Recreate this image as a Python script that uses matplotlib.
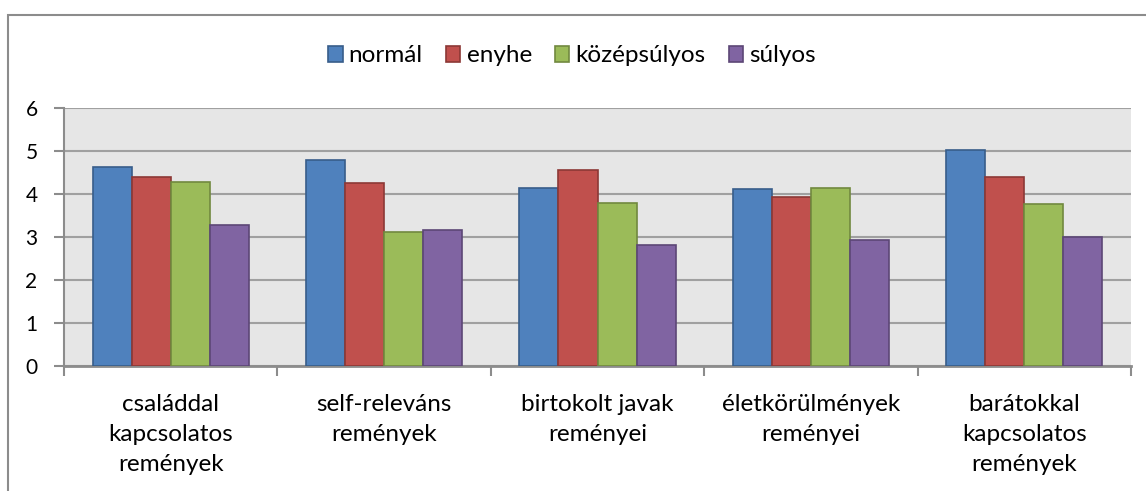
import numpy as np
import matplotlib.pyplot as plt
from matplotlib.patches import Rectangle

plt.rcParams['font.family'] = ['Lato', 'DejaVu Sans']

categories = [
    'családdal\nkapcsolatos\nremények',
    'self-releváns\nremények',
    'birtokolt javak\nreményei',
    'életkörülmények\nreményei',
    'barátokkal\nkapcsolatos\nremények',
]
series_names = ['normál', 'enyhe', 'középsúlyos', 'súlyos']
normal = [4.62, 4.78, 4.13, 4.11, 5.03]
enyhe = [4.39, 4.25, 4.55, 3.94, 4.39]
kozepsulyos = [4.27, 3.11, 3.80, 4.15, 3.77]
sulyos = [3.29, 3.17, 2.81, 2.93, 2.99]

fills = ['#4F81BD', '#C0504D', '#9BBB59', '#8064A2']
edges = ['#385D8A', '#8C3836', '#71893F', '#5C4776']

fig = plt.figure(figsize=(11.46, 4.91), dpi=100)
W, H = 1146, 491

# outer chart frame, running off the right and bottom edges
fig.patches.append(Rectangle((8 / W, -0.1), 1.2, 1.1 - 15 / H,
                             transform=fig.transFigure, fill=False,
                             edgecolor='#8C8C8C', linewidth=1.5))

ax = fig.add_axes([64 / W, 1 - 366 / H, (1131 - 64) / W, (366 - 108) / H])
ax.set_facecolor('#E6E6E6')

x = np.arange(len(categories))
bw = 0.183
all_series = [normal, enyhe, kozepsulyos, sulyos]
for i, vals in enumerate(all_series):
    ax.bar(x + (i - 1.5) * bw, vals, bw, color=fills[i], edgecolor=edges[i],
           linewidth=1.2, label=series_names[i], zorder=3)

ax.set_xlim(-0.5, len(categories) - 0.5)
ax.set_ylim(0, 6)
ax.set_yticks(range(7))
ax.yaxis.grid(True, color='#A0A0A0', linewidth=1.5, zorder=1)
ax.set_axisbelow(True)

for s in ['top', 'right']:
    ax.spines[s].set_visible(False)
ax.spines['left'].set_color('#8C8C8C')
ax.spines['bottom'].set_color('#8C8C8C')
ax.spines['left'].set_linewidth(1.5)
ax.spines['bottom'].set_linewidth(2)

ax.set_xticks(np.arange(len(categories) + 1) - 0.5, minor=False)
ax.set_xticklabels([])
ax.set_xticks(x, minor=True)
ax.set_xticklabels(categories, minor=True, fontsize=17.5, linespacing=1.55)
ax.tick_params(axis='x', which='major', length=7, width=1.5, color='#8C8C8C')
ax.tick_params(axis='x', which='minor', length=0, pad=20)
ax.tick_params(axis='y', length=7, width=1.5, color='#8C8C8C', labelsize=15, pad=12)

ax.legend(loc='center', bbox_to_anchor=(572 / W, 1 - 56 / H),
          bbox_transform=fig.transFigure, ncol=4, frameon=False,
          fontsize=17.5, handlelength=0.6, handleheight=0.6,
          handletextpad=0.25, columnspacing=0.95)

fig.savefig('out.png', dpi=100, facecolor='white')
